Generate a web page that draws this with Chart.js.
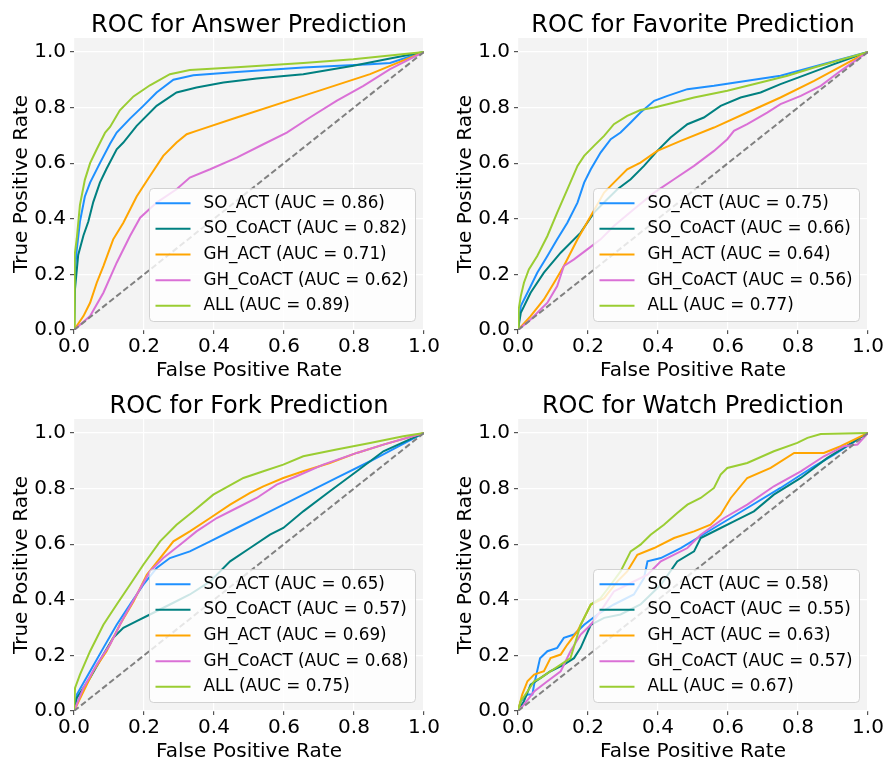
<!DOCTYPE html>
<html lang="en">
<head>
<meta charset="UTF-8">
<title>ROC curves</title>
<script src="https://cdn.jsdelivr.net/npm/chart.js"></script>
<style>
    html, body{
        margin: 0;
        padding: 0;
        background: #ffffff;
        overflow: hidden;
    }
    .painel{
        position: absolute;
    }
</style>
</head>
<body>
    <div class="painel" style="left:0px;top:0px;width:444px;height:381px"><canvas id="graficoAnswer"></canvas></div>
    <div class="painel" style="left:444px;top:0px;width:443px;height:381px"><canvas id="graficoFavorite"></canvas></div>
    <div class="painel" style="left:0px;top:381px;width:444px;height:381px"><canvas id="graficoFork"></canvas></div>
    <div class="painel" style="left:444px;top:381px;width:443px;height:381px"><canvas id="graficoWatch"></canvas></div>

<script>
    // nomes e cores das curvas (mesma ordem da legenda)
    const seriesNames = ['SO_ACT', 'SO_CoACT', 'GH_ACT', 'GH_CoACT', 'ALL'];
    const seriesColors = ['#1e90ff', '#008080', '#ffa500', '#da70d6', '#9acd32'];
    const axisTicks = [0, 0.2, 0.4, 0.6, 0.8, 1.0];
    const diagonal = [[0, 0], [1, 1]];

    // ---- Answer ----
    const answerAuc = [0.86, 0.82, 0.71, 0.62, 0.89];
    const answerSoAct = [[0,0],[0.003,0.22],[0.008,0.29],[0.017,0.39],[0.031,0.48],[0.046,0.53],[0.074,0.60],[0.103,0.67],[0.122,0.71],[0.16,0.76],[0.198,0.806],[0.236,0.854],[0.284,0.90],[0.341,0.916],[0.465,0.928],[0.655,0.944],[0.846,0.956],[0.903,0.96],[1,1]];
    const answerSoCoAct = [[0,0],[0.003,0.15],[0.012,0.27],[0.027,0.34],[0.041,0.39],[0.055,0.46],[0.074,0.53],[0.093,0.58],[0.122,0.65],[0.141,0.674],[0.179,0.734],[0.236,0.806],[0.293,0.854],[0.35,0.872],[0.427,0.89],[0.522,0.904],[0.655,0.92],[0.798,0.95],[0.903,0.976],[1,1]];
    const answerGhAct = [[0,0],[0.027,0.05],[0.046,0.098],[0.065,0.17],[0.084,0.23],[0.112,0.326],[0.141,0.386],[0.179,0.48],[0.217,0.554],[0.255,0.626],[0.293,0.674],[0.322,0.704],[0.35,0.716],[0.465,0.764],[0.655,0.842],[0.846,0.92],[1,1]];
    const answerGhCoAct = [[0,0],[0.046,0.05],[0.084,0.134],[0.122,0.242],[0.16,0.338],[0.189,0.404],[0.236,0.458],[0.293,0.506],[0.331,0.548],[0.389,0.578],[0.465,0.62],[0.541,0.668],[0.608,0.71],[0.674,0.764],[0.75,0.824],[0.827,0.878],[0.903,0.938],[1,1]];
    const answerAll = [[0,0],[0.002,0.27],[0.008,0.33],[0.017,0.45],[0.031,0.54],[0.046,0.60],[0.065,0.65],[0.089,0.71],[0.103,0.73],[0.131,0.79],[0.17,0.84],[0.217,0.88],[0.274,0.92],[0.331,0.935],[0.465,0.945],[0.655,0.96],[0.798,0.974],[1,1]];

    // ---- Favorite ----
    const favoriteAuc = [0.75, 0.66, 0.64, 0.56, 0.77];
    const favoriteSoAct = [[0,0],[0.008,0.086],[0.027,0.134],[0.055,0.206],[0.084,0.266],[0.112,0.326],[0.141,0.386],[0.17,0.458],[0.189,0.53],[0.208,0.578],[0.236,0.638],[0.265,0.686],[0.293,0.71],[0.322,0.746],[0.35,0.782],[0.389,0.824],[0.427,0.842],[0.484,0.866],[0.56,0.878],[0.75,0.914],[1,1]];
    const favoriteSoCoAct = [[0,0],[0.008,0.062],[0.036,0.134],[0.074,0.206],[0.122,0.278],[0.179,0.35],[0.217,0.422],[0.255,0.47],[0.284,0.506],[0.322,0.542],[0.36,0.59],[0.398,0.644],[0.436,0.692],[0.484,0.74],[0.531,0.764],[0.579,0.806],[0.636,0.836],[0.693,0.854],[0.75,0.884],[0.827,0.92],[0.903,0.956],[1,1]];
    const favoriteGhAct = [[0,0],[0.036,0.05],[0.074,0.11],[0.103,0.17],[0.131,0.23],[0.17,0.326],[0.208,0.41],[0.246,0.494],[0.274,0.53],[0.312,0.578],[0.35,0.602],[0.398,0.644],[0.465,0.68],[0.56,0.728],[0.655,0.782],[0.75,0.836],[0.846,0.896],[1,1]];
    const favoriteGhCoAct = [[0,0],[0.036,0.038],[0.084,0.098],[0.112,0.158],[0.131,0.23],[0.16,0.254],[0.198,0.29],[0.236,0.326],[0.274,0.374],[0.331,0.434],[0.389,0.494],[0.446,0.542],[0.503,0.59],[0.56,0.644],[0.598,0.686],[0.617,0.716],[0.655,0.74],[0.712,0.782],[0.75,0.812],[0.808,0.842],[0.865,0.878],[0.922,0.932],[1,1]];
    const favoriteAll = [[0,0],[0.002,0.074],[0.008,0.122],[0.017,0.17],[0.031,0.218],[0.055,0.266],[0.084,0.338],[0.112,0.422],[0.141,0.506],[0.17,0.59],[0.189,0.626],[0.217,0.662],[0.246,0.698],[0.274,0.74],[0.312,0.77],[0.35,0.791],[0.389,0.8],[0.427,0.812],[0.503,0.836],[0.598,0.86],[0.693,0.89],[0.77,0.914],[0.846,0.944],[1,1]];

    // ---- Fork ----
    const forkAuc = [0.65, 0.57, 0.69, 0.68, 0.75];
    const forkSoAct = [[0,0],[0.008,0.059],[0.046,0.143],[0.084,0.227],[0.122,0.31],[0.16,0.383],[0.198,0.454],[0.236,0.514],[0.274,0.55],[0.331,0.574],[0.389,0.61],[0.465,0.658],[0.56,0.718],[0.655,0.778],[0.75,0.838],[0.846,0.898],[1,1]];
    const forkSoCoAct = [[0,0],[0.008,0.047],[0.046,0.119],[0.084,0.203],[0.112,0.263],[0.141,0.299],[0.179,0.323],[0.217,0.347],[0.274,0.383],[0.331,0.419],[0.389,0.466],[0.446,0.538],[0.503,0.586],[0.56,0.634],[0.598,0.658],[0.655,0.718],[0.731,0.79],[0.808,0.862],[0.884,0.934],[1,1]];
    const forkGhAct = [[0,0],[0.027,0.07],[0.055,0.143],[0.093,0.215],[0.131,0.31],[0.17,0.394],[0.208,0.49],[0.246,0.55],[0.284,0.61],[0.331,0.646],[0.389,0.694],[0.446,0.742],[0.503,0.784],[0.541,0.808],[0.598,0.838],[0.655,0.862],[0.731,0.892],[0.808,0.928],[0.884,0.958],[1,1]];
    const forkGhCoAct = [[0,0],[0.027,0.083],[0.065,0.167],[0.103,0.239],[0.141,0.334],[0.179,0.418],[0.217,0.502],[0.255,0.55],[0.303,0.598],[0.35,0.646],[0.408,0.694],[0.465,0.73],[0.522,0.766],[0.579,0.814],[0.636,0.844],[0.712,0.886],[0.808,0.928],[0.884,0.958],[1,1]];
    const forkAll = [[0,0],[0.003,0.083],[0.017,0.131],[0.046,0.215],[0.084,0.31],[0.122,0.383],[0.16,0.454],[0.198,0.526],[0.246,0.61],[0.293,0.67],[0.341,0.718],[0.398,0.778],[0.484,0.838],[0.541,0.862],[0.598,0.886],[0.655,0.916],[0.75,0.94],[0.846,0.964],[0.941,0.988],[1,1]];

    // ---- Watch ----
    const watchAuc = [0.58, 0.55, 0.63, 0.57, 0.67];
    const watchSoAct = [[0,0],[0.008,0.035],[0.027,0.059],[0.041,0.059],[0.046,0.095],[0.063,0.19],[0.084,0.215],[0.112,0.227],[0.131,0.263],[0.16,0.275],[0.189,0.31],[0.227,0.347],[0.274,0.383],[0.331,0.419],[0.36,0.478],[0.37,0.538],[0.408,0.55],[0.465,0.586],[0.56,0.658],[0.655,0.73],[0.75,0.802],[0.846,0.88],[0.903,0.922],[1,1]];
    const watchSoCoAct = [[0,0],[0.017,0.035],[0.036,0.095],[0.065,0.119],[0.093,0.143],[0.131,0.167],[0.16,0.19],[0.179,0.227],[0.208,0.31],[0.246,0.335],[0.293,0.347],[0.35,0.383],[0.408,0.454],[0.455,0.538],[0.503,0.574],[0.522,0.622],[0.579,0.658],[0.617,0.682],[0.674,0.718],[0.731,0.778],[0.808,0.838],[0.884,0.91],[1,1]];
    const watchGhAct = [[0,0],[0.012,0.059],[0.027,0.107],[0.046,0.131],[0.074,0.143],[0.093,0.19],[0.122,0.203],[0.141,0.239],[0.17,0.287],[0.208,0.383],[0.246,0.406],[0.284,0.466],[0.312,0.502],[0.341,0.562],[0.389,0.586],[0.446,0.622],[0.503,0.646],[0.55,0.67],[0.579,0.706],[0.608,0.766],[0.655,0.838],[0.722,0.874],[0.789,0.928],[0.874,0.928],[0.922,0.952],[1,1]];
    const watchGhCoAct = [[0,0],[0.017,0.023],[0.046,0.07],[0.084,0.107],[0.122,0.143],[0.15,0.215],[0.179,0.275],[0.208,0.31],[0.236,0.359],[0.274,0.43],[0.312,0.454],[0.37,0.49],[0.408,0.538],[0.484,0.586],[0.522,0.634],[0.589,0.694],[0.655,0.742],[0.731,0.808],[0.808,0.862],[0.874,0.916],[0.931,0.952],[0.97,0.958],[1,1]];
    const watchAll = [[0,0],[0.008,0.035],[0.027,0.07],[0.046,0.107],[0.065,0.119],[0.093,0.143],[0.122,0.167],[0.15,0.19],[0.179,0.31],[0.208,0.383],[0.236,0.406],[0.265,0.454],[0.293,0.502],[0.322,0.574],[0.35,0.598],[0.379,0.634],[0.417,0.67],[0.455,0.712],[0.484,0.742],[0.522,0.766],[0.56,0.802],[0.579,0.85],[0.598,0.874],[0.655,0.892],[0.731,0.934],[0.798,0.964],[0.827,0.982],[0.865,0.996],[1,1]];

    const fonte = '"DejaVu Sans", sans-serif';

    function pontos(lista){
        return lista.map(p => ({x: p[0], y: p[1]}));
    }

    // fundo cinza da area do grafico
    const fundoArea = {
        id: 'fundoArea',
        beforeDraw(chart){
            const a = chart.chartArea;
            const ctx = chart.ctx;
            ctx.save();
            ctx.fillStyle = '#f3f3f3';
            ctx.fillRect(a.left, a.top, a.right - a.left, a.bottom - a.top);
            ctx.restore();
        }
    };

    // legenda dentro da area, canto inferior direito
    const legendaRoc = {
        id: 'legendaRoc',
        afterDraw(chart, args, opts){
            const a = chart.chartArea;
            const ctx = chart.ctx;
            const w = 266, h = 133;
            const x0 = Math.round(a.right - 9 - w) + 0.5;
            const y0 = Math.round(a.bottom - 9 - h) + 0.5;
            ctx.save();
            ctx.beginPath();
            ctx.roundRect(x0, y0, w, h, 4);
            ctx.fillStyle = 'rgba(255,255,255,0.8)';
            ctx.fill();
            ctx.strokeStyle = 'rgba(200,200,200,0.8)';
            ctx.lineWidth = 1;
            ctx.stroke();
            ctx.font = '16.8px ' + fonte;
            ctx.textBaseline = 'middle';
            ctx.textAlign = 'left';
            for(let i = 0; i < seriesNames.length; i++){
                const yy = y0 + 14.7 + i * 25.65;
                ctx.beginPath();
                ctx.moveTo(x0 + 6, yy);
                ctx.lineTo(x0 + 41, yy);
                ctx.strokeStyle = seriesColors[i];
                ctx.lineWidth = 2;
                ctx.stroke();
                ctx.fillStyle = '#000000';
                ctx.fillText(seriesNames[i] + ' (AUC = ' + opts.auc[i].toFixed(2) + ')', x0 + 54, yy);
            }
            ctx.restore();
        }
    };

    function desenhar(id, titulo, curvas, auc, direita){
        const datasets = curvas.map((c, i) => ({
            label: seriesNames[i],
            data: pontos(c),
            borderColor: seriesColors[i],
            borderWidth: 2,
            pointRadius: 0,
            fill: false,
            tension: 0,
            order: 5 - i
        }));
        datasets.push({
            label: 'diagonal',
            data: pontos(diagonal),
            borderColor: '#808080',
            borderWidth: 2,
            borderDash: [6, 3],
            pointRadius: 0,
            fill: false,
            order: 0
        });
        return new Chart(document.getElementById(id), {
            type: 'line',
            data: {datasets: datasets},
            plugins: [fundoArea, legendaRoc],
            options: {
                responsive: true,
                maintainAspectRatio: false,
                animation: false,
                layout: {padding: {left: 0, top: 0, right: direita, bottom: 0}},
                plugins: {
                    legend: {display: false},
                    tooltip: {enabled: false},
                    legendaRoc: {auc: auc},
                    title: {
                        display: true,
                        text: titulo,
                        color: '#000000',
                        fullSize: false,
                        font: {family: fonte, size: 24, weight: 'normal', lineHeight: 1},
                        padding: {top: 14, bottom: 0}
                    }
                },
                scales: {
                    x: {
                        type: 'linear',
                        min: 0,
                        max: 1,
                        afterBuildTicks: s => { s.ticks = axisTicks.map(v => ({value: v})); },
                        afterFit: s => { s.height = 51; },
                        border: {display: false},
                        grid: {color: '#ffffff', lineWidth: 1.2, tickLength: 4, tickColor: '#555555'},
                        ticks: {
                            color: '#000000',
                            padding: 2.5,
                            maxRotation: 0,
                            autoSkip: false,
                            font: {family: fonte, size: 20, lineHeight: 1},
                            callback: v => v.toFixed(1)
                        },
                        title: {
                            display: true,
                            text: 'False Positive Rate',
                            color: '#000000',
                            font: {family: fonte, size: 20, lineHeight: 1},
                            padding: {top: 0, bottom: 0}
                        }
                    },
                    y: {
                        type: 'linear',
                        min: 0,
                        max: 1.05,
                        afterBuildTicks: s => { s.ticks = axisTicks.map(v => ({value: v})); },
                        afterFit: s => { s.width = 74; },
                        border: {display: false},
                        grid: {color: '#ffffff', lineWidth: 1.2, tickLength: 4, tickColor: '#555555'},
                        ticks: {
                            color: '#000000',
                            padding: 4,
                            autoSkip: false,
                            font: {family: fonte, size: 20, lineHeight: 1},
                            callback: v => v.toFixed(1)
                        },
                        title: {
                            display: true,
                            text: 'True Positive Rate',
                            color: '#000000',
                            font: {family: fonte, size: 20, lineHeight: 1},
                            padding: {top: 12, bottom: 0}
                        }
                    }
                }
            }
        });
    }

    desenhar('graficoAnswer', 'ROC for Answer Prediction',
        [answerSoAct, answerSoCoAct, answerGhAct, answerGhCoAct, answerAll], answerAuc, 20);
    desenhar('graficoFavorite', 'ROC for Favorite Prediction',
        [favoriteSoAct, favoriteSoCoAct, favoriteGhAct, favoriteGhCoAct, favoriteAll], favoriteAuc, 19);
    desenhar('graficoFork', 'ROC for Fork Prediction',
        [forkSoAct, forkSoCoAct, forkGhAct, forkGhCoAct, forkAll], forkAuc, 20);
    desenhar('graficoWatch', 'ROC for Watch Prediction',
        [watchSoAct, watchSoCoAct, watchGhAct, watchGhCoAct, watchAll], watchAuc, 19);
</script>
</body>
</html>
